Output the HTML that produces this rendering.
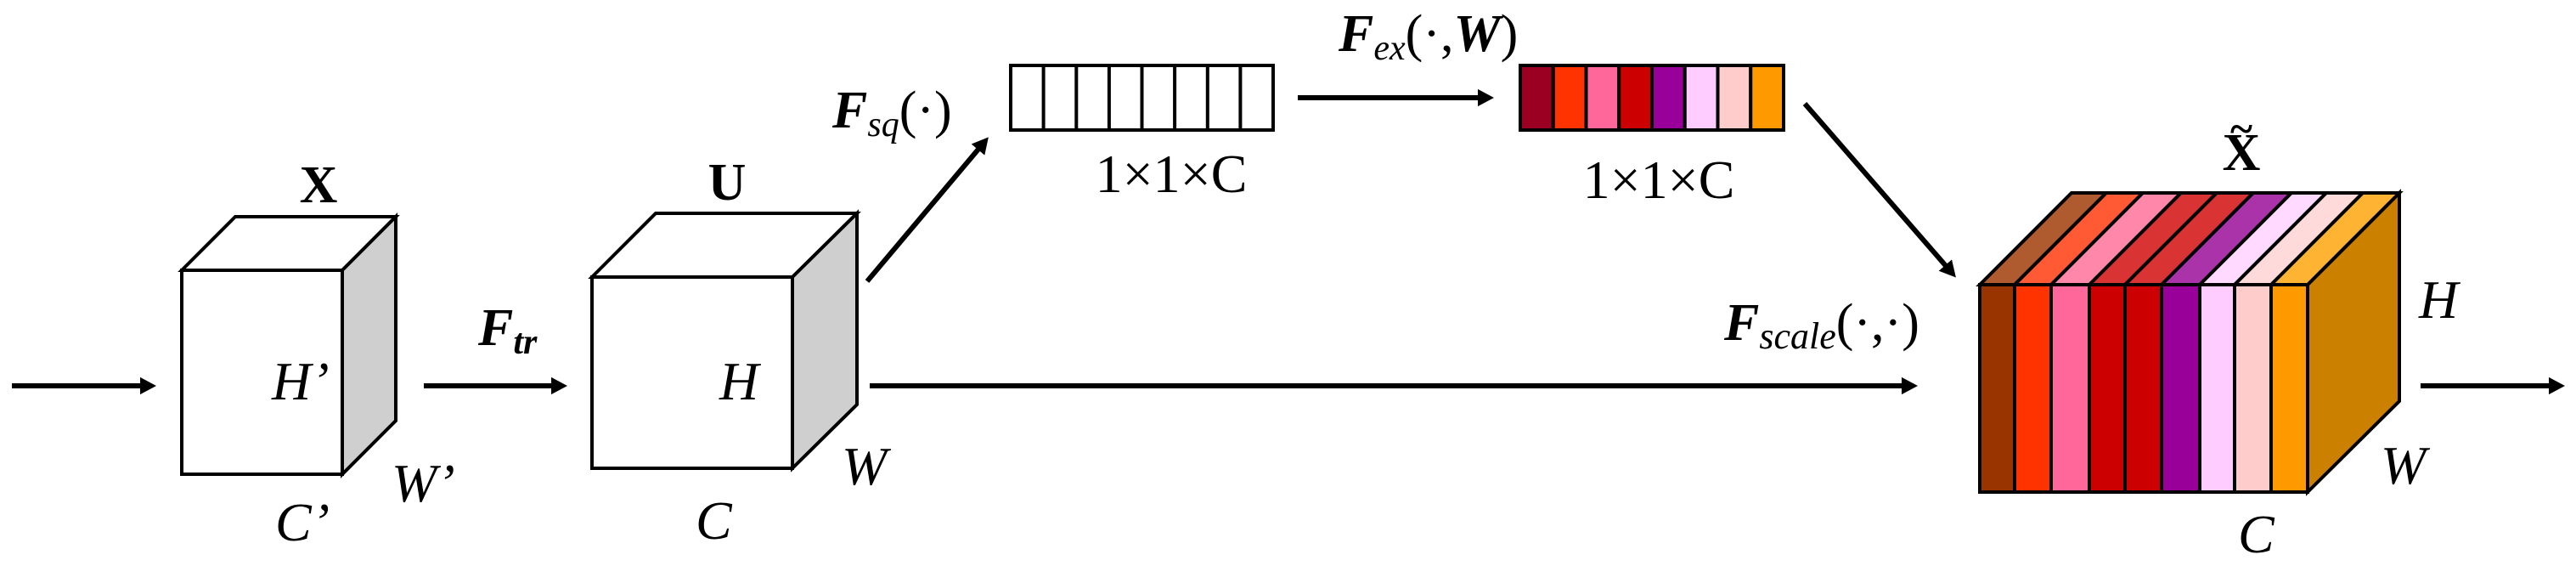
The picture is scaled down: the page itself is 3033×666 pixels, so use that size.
<!DOCTYPE html>
<html><head><meta charset="utf-8"><style>
html,body{margin:0;padding:0;background:#fff;}
svg{display:block;}
text{font-family:"Liberation Serif",serif;fill:#000;}
.it{font-style:italic;}
.b{font-weight:bold;}
</style></head><body>
<svg width="3033" height="666" viewBox="0 0 3033 666" xmlns="http://www.w3.org/2000/svg">
<defs>
<marker id="ah" markerWidth="4" markerHeight="4" refX="2.2" refY="2" orient="auto" markerUnits="strokeWidth">
<path d="M0,0.3 L3.2,2 L0,3.7 Z" fill="#000"/>
</marker>
</defs>
<g stroke="#000" stroke-width="6" marker-end="url(#ah)" fill="none">
<line x1="14" y1="454" x2="178" y2="454"/>
<line x1="499" y1="454" x2="662" y2="454"/>
<line x1="1024" y1="454" x2="2252" y2="454"/>
<line x1="1021" y1="331" x2="1160" y2="166"/>
<line x1="1528" y1="115" x2="1753" y2="115"/>
<line x1="2125" y1="122" x2="2299" y2="322"/>
<line x1="2850" y1="454" x2="3014" y2="454"/>
</g>
<!-- X cube -->
<g stroke="#000" stroke-width="4" stroke-linejoin="miter">
<polygon points="214,318 277,255 466,255 403,318" fill="#fff"/>
<polygon points="403,318 466,255 466,495 403,558" fill="#cfcfcf"/>
<rect x="214" y="318" width="189" height="240" fill="#fff"/>
</g>
<!-- U cube -->
<g stroke="#000" stroke-width="4">
<polygon points="697,326 772,251 1009,251 933,326" fill="#fff"/>
<polygon points="933,326 1009,251 1009,476 933,551" fill="#cfcfcf"/>
<rect x="697" y="326" width="236" height="225" fill="#fff"/>
</g>
<!-- empty vector -->
<g stroke="#000" stroke-width="4" fill="#fff">
<rect x="1190" y="77" width="309" height="76"/>
<line x1="1228.6" y1="77" x2="1228.6" y2="153"/>
<line x1="1267.3" y1="77" x2="1267.3" y2="153"/>
<line x1="1305.9" y1="77" x2="1305.9" y2="153"/>
<line x1="1344.5" y1="77" x2="1344.5" y2="153"/>
<line x1="1383.1" y1="77" x2="1383.1" y2="153"/>
<line x1="1421.8" y1="77" x2="1421.8" y2="153"/>
<line x1="1460.4" y1="77" x2="1460.4" y2="153"/>
</g>
<!-- colored vector -->
<g stroke="#000" stroke-width="4">
<rect x="1790" y="77" width="38.75" height="76" fill="#9b0022"/>
<rect x="1828.75" y="77" width="38.75" height="76" fill="#ff3300"/>
<rect x="1867.5" y="77" width="38.75" height="76" fill="#ff6699"/>
<rect x="1906.25" y="77" width="38.75" height="76" fill="#cc0000"/>
<rect x="1945" y="77" width="38.75" height="76" fill="#990099"/>
<rect x="1983.75" y="77" width="38.75" height="76" fill="#ffccff"/>
<rect x="2022.5" y="77" width="38.75" height="76" fill="#ffcccc"/>
<rect x="2061.25" y="77" width="38.75" height="76" fill="#ff9900"/>
</g>
<!-- big cube -->
<g stroke="#000" stroke-width="4">
<polygon points="2717,335 2825,227 2825,472 2717,579" fill="#cc8000"/>
<polygon points="2331,335 2439,227 2480,227 2372,335" fill="#b05a30"/>
<polygon points="2372,335 2480,227 2523,227 2415,335" fill="#ff5a33"/>
<polygon points="2415,335 2523,227 2568,227 2460,335" fill="#ff88aa"/>
<polygon points="2460,335 2568,227 2610,227 2502,335" fill="#d93333"/>
<polygon points="2502,335 2610,227 2653,227 2545,335" fill="#d93333"/>
<polygon points="2545,335 2653,227 2698,227 2590,335" fill="#aa33aa"/>
<polygon points="2590,335 2698,227 2739,227 2631,335" fill="#ffd9ff"/>
<polygon points="2631,335 2739,227 2782,227 2674,335" fill="#ffdada"/>
<polygon points="2674,335 2782,227 2825,227 2717,335" fill="#ffb333"/>
<rect x="2331" y="335" width="41" height="244" fill="#993300"/>
<rect x="2372" y="335" width="43" height="244" fill="#ff3300"/>
<rect x="2415" y="335" width="45" height="244" fill="#ff6699"/>
<rect x="2460" y="335" width="42" height="244" fill="#cc0000"/>
<rect x="2502" y="335" width="43" height="244" fill="#cc0000"/>
<rect x="2545" y="335" width="45" height="244" fill="#990099"/>
<rect x="2590" y="335" width="41" height="244" fill="#ffccff"/>
<rect x="2631" y="335" width="43" height="244" fill="#ffcccc"/>
<rect x="2674" y="335" width="43" height="244" fill="#ff9900"/>
</g>
<!-- labels -->
<text x="375" y="238" font-size="62" class="b" text-anchor="middle">X</text>
<text x="856" y="235" font-size="62" class="b" text-anchor="middle">U</text>
<text x="2639" y="200" font-size="62" class="b" text-anchor="middle">X</text>
<text x="2639" y="168" font-size="50" class="b" text-anchor="middle">~</text>
<text x="320" y="470" font-size="64" class="it">H’</text>
<text x="461" y="590" font-size="64" class="it">W’</text>
<text x="324" y="636" font-size="64" class="it">C’</text>
<text x="847" y="470" font-size="64" class="it">H</text>
<text x="991" y="570" font-size="64" class="it">W</text>
<text x="819" y="634" font-size="64" class="it">C</text>
<text x="2848" y="374" font-size="64" class="it">H</text>
<text x="2803" y="569" font-size="64" class="it">W</text>
<text x="2635" y="650" font-size="64" class="it">C</text>
<text x="563" y="406" font-size="62"><tspan class="it b">F</tspan><tspan class="it b" font-size="42" dy="10">tr</tspan></text>
<text x="980" y="150" font-size="62"><tspan class="it b">F</tspan><tspan class="it" font-size="42" dy="10">sq</tspan><tspan dy="-10">(·)</tspan></text>
<text x="1576" y="60" font-size="62"><tspan class="it b">F</tspan><tspan class="it" font-size="42" dy="10">ex</tspan><tspan dy="-10">(·,</tspan><tspan class="it b">W</tspan><tspan>)</tspan></text>
<text x="2030" y="400" font-size="62"><tspan class="it b">F</tspan><tspan class="it" font-size="44" dy="10">scale</tspan><tspan dy="-10">(·,·)</tspan></text>
<text x="1379" y="226" font-size="64" text-anchor="middle">1×1×C</text>
<text x="1953" y="233" font-size="64" text-anchor="middle">1×1×C</text>
</svg>
</body></html>
